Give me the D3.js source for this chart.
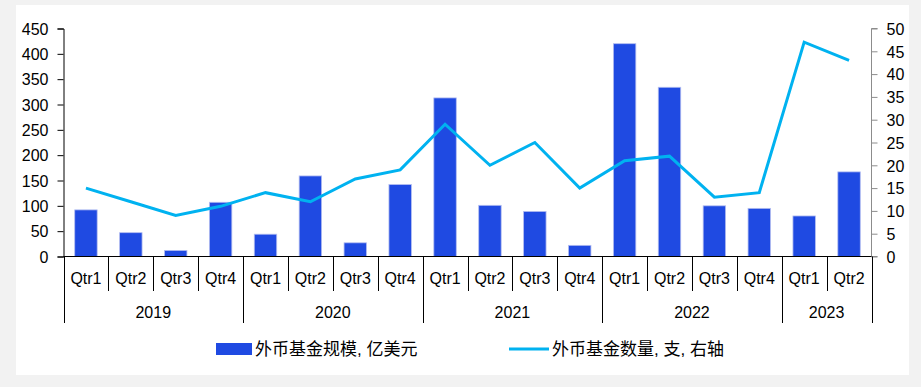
<!DOCTYPE html>
<html>
<head>
<meta charset="utf-8">
<script src="https://cdn.jsdelivr.net/npm/d3@7"></script>
<style>
    html, body { margin: 0; padding: 0; background: #f2f2f2; }
    svg { display: block; }
    text { font-family: "Liberation Sans", Arial, "Noto Sans CJK SC", sans-serif; fill: #000; }
    .legend text { font-family: "Liberation Sans", "Noto Sans CJK SC", sans-serif; }
</style>
</head>
<body>
<div id="chart"></div>
<script>
const years = ['2019', '2020', '2021', '2022', '2023'];
const quarters = ['Qtr1', 'Qtr2', 'Qtr3', 'Qtr4', 'Qtr1', 'Qtr2', 'Qtr3', 'Qtr4', 'Qtr1', 'Qtr2', 'Qtr3', 'Qtr4', 'Qtr1', 'Qtr2', 'Qtr3', 'Qtr4', 'Qtr1', 'Qtr2'];
const quartersPerYear = [4, 4, 4, 4, 2];
// 外币基金规模, 亿美元 (left axis)
const fundSize = [92, 47, 12, 107, 44, 159, 27, 142, 313, 101, 89, 22, 420, 334, 100, 95, 80, 167];
// 外币基金数量, 支 (right axis)
const fundCount = [15, 12, 9, 11, 14, 12, 17, 19, 29, 20, 25, 15, 21, 22, 13, 14, 47, 43];
const leftTicks = [0, 50, 100, 150, 200, 250, 300, 350, 400, 450];
const rightTicks = [0, 5, 10, 15, 20, 25, 30, 35, 40, 45, 50];

const width = 921;
const height = 387;
const barColor = '#1f4ae2';
const lineColor = '#00b2f0';

const svg = d3.select('#chart')
    .append('svg')
    .attr('width', width)
    .attr('height', height);

// white panel
svg.append('rect')
    .attr('x', 16).attr('y', 5)
    .attr('width', 893).attr('height', 370)
    .attr('fill', '#fff');

const x = d3.scaleBand()
    .domain(d3.range(quarters.length))
    .range([63.5, 871.5])
    .paddingInner(0.5)
    .paddingOuter(0.25);

const step = x.step();
const xLeft = 63.5;

const yLeft = d3.scaleLinear().domain([0, 450]).range([256.5, 28.5]);
const yRight = d3.scaleLinear().domain([0, 50]).range([256.5, 28.5]);

// bars
svg.append('g')
    .selectAll('rect')
    .data(fundSize)
    .enter()
    .append('rect')
    .attr('x', (d, i) => x(i))
    .attr('y', d => yLeft(d))
    .attr('width', x.bandwidth())
    .attr('height', d => yLeft(0) - yLeft(d))
    .attr('fill', barColor)
    .attr('stroke', '#b3bdf0')
    .attr('stroke-width', 0.8);

// line
const line = d3.line()
    .x((d, i) => x(i) + x.bandwidth() / 2)
    .y(d => yRight(d));

svg.append('path')
    .datum(fundCount)
    .attr('d', line)
    .attr('fill', 'none')
    .attr('stroke', lineColor)
    .attr('stroke-width', 3);

// left axis
const leftAxis = svg.append('g')
    .attr('transform', 'translate(63.5,0)')
    .call(d3.axisLeft(yLeft).tickValues(leftTicks).tickSize(6).tickPadding(9));
leftAxis.selectAll('text').style('font-size', '16px').attr('dy', '0.36em');
leftAxis.selectAll('line, path').attr('stroke', '#000');

// right axis
const rightAxis = svg.append('g')
    .attr('transform', 'translate(871.5,0)')
    .call(d3.axisRight(yRight).tickValues(rightTicks).tickSize(6).tickPadding(9));
rightAxis.selectAll('text').style('font-size', '16px').attr('dy', '0.36em');
rightAxis.selectAll('line, path').attr('stroke', '#8c8c8c');
rightAxis.select('.domain').attr('d', 'M6,' + yRight(50) + 'H0V' + yRight(0) + 'H6');

// category axis (two levels)
const catAxis = svg.append('g').attr('stroke', '#000').attr('stroke-width', 1);
catAxis.append('line')
    .attr('x1', xLeft).attr('x2', 871.5)
    .attr('y1', 256.5).attr('y2', 256.5);

const yearStarts = [0];
quartersPerYear.forEach(n => yearStarts.push(yearStarts[yearStarts.length - 1] + n));

d3.range(quarters.length + 1).forEach(i => {
    const isYear = yearStarts.includes(i);
    const xx = Math.round(xLeft + i * step) + 0.5;
    catAxis.append('line')
        .attr('x1', xx).attr('x2', xx)
        .attr('y1', 256.5)
        .attr('y2', isYear ? 323 : 291);
});

svg.append('g')
    .selectAll('text')
    .data(quarters)
    .enter()
    .append('text')
    .attr('x', (d, i) => x(i) + x.bandwidth() / 2)
    .attr('y', 278)
    .attr('dy', '0.35em')
    .attr('text-anchor', 'middle')
    .style('font-size', '16px')
    .text(d => d);

svg.append('g')
    .selectAll('text')
    .data(years)
    .enter()
    .append('text')
    .attr('x', (d, i) => xLeft + (yearStarts[i] + quartersPerYear[i] / 2) * step)
    .attr('y', 312)
    .attr('dy', '0.35em')
    .attr('text-anchor', 'middle')
    .style('font-size', '16px')
    .text(d => d);

// legend
const legend = svg.append('g').attr('class', 'legend');
legend.append('rect')
    .attr('x', 216).attr('y', 343)
    .attr('width', 36).attr('height', 12)
    .attr('fill', barColor);
legend.append('text')
    .attr('x', 255).attr('y', 349)
    .attr('dy', '0.35em')
    .style('font-size', '17px')
    .text('外币基金规模, 亿美元');
legend.append('line')
    .attr('x1', 509).attr('x2', 549)
    .attr('y1', 349).attr('y2', 349)
    .attr('stroke', lineColor)
    .attr('stroke-width', 3);
legend.append('text')
    .attr('x', 552).attr('y', 349)
    .attr('dy', '0.35em')
    .style('font-size', '17px')
    .text('外币基金数量, 支, 右轴');
</script>
</body>
</html>
